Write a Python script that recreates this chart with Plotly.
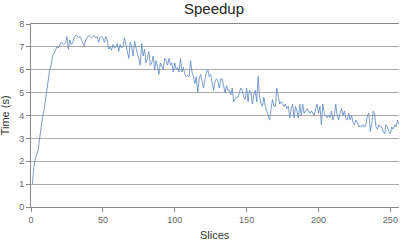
import plotly.graph_objects as go

slices = list(range(1, 257))
speedup = [
    1.0, 1.8, 2.1, 2.3, 2.5, 3.0, 3.6, 3.9, 4.2, 4.7,
    5.1, 5.6, 6.0, 6.2, 6.6, 6.7, 6.9, 7.0, 6.95, 7.1,
    7.2, 7.15, 7.1, 7.2, 7.45, 6.9, 7.3, 7.1, 7.2, 7.4,
    7.5, 7.5, 7.4, 7.45, 7.3, 7.2, 7.05, 7.3, 7.4, 7.5,
    7.45, 7.4, 7.45, 7.5, 7.4, 7.45, 7.2, 7.4, 7.45, 7.4,
    7.2, 7.45, 7.3, 6.9, 7.0, 6.85, 7.1, 6.95, 7.0, 7.15,
    6.8, 7.1, 6.95, 7.0, 7.4, 7.0, 6.8, 6.5, 7.2, 7.0,
    6.6, 7.25, 6.9, 6.7, 6.5, 6.2, 7.15, 6.6, 6.9, 6.3,
    6.5, 6.8, 6.2, 6.3, 6.6, 6.0, 6.4, 6.1, 5.8, 6.3,
    6.1, 6.0, 6.5, 6.4, 6.2, 6.5, 6.2, 6.3, 5.9, 6.3,
    6.0, 6.1, 5.9, 6.5, 5.9, 6.1, 5.8, 5.7, 5.75, 5.7,
    6.4, 5.9, 5.7, 5.4, 5.7, 5.0, 5.6, 5.8, 5.5, 5.2,
    5.6, 5.9, 6.0, 5.7, 5.8, 5.4, 5.1, 5.5, 5.6, 5.5,
    5.2, 5.6, 5.6, 5.3, 5.0, 5.3, 5.1, 5.1, 4.9, 5.2,
    4.6, 4.7, 4.8, 4.8, 5.0, 5.2, 5.1, 4.8, 4.7, 5.2,
    4.6, 5.1, 5.0, 4.5, 4.9, 5.1, 4.6, 5.7, 4.8, 4.5,
    4.4, 4.8, 4.4, 4.2, 4.0, 3.8, 4.3, 4.7, 4.4, 4.4,
    5.2, 4.9, 4.5, 4.6, 4.5, 4.4, 4.5, 4.3, 4.4, 3.9,
    4.3, 4.5, 3.9, 4.4, 4.2, 3.9, 4.5, 4.0, 4.5, 4.1,
    4.2, 4.3, 4.2, 4.1, 4.2, 4.1, 4.0, 4.3, 4.5, 4.1,
    4.4, 3.6, 4.5, 4.1, 4.0, 3.9, 4.0, 3.9, 4.2, 3.8,
    4.0, 4.5, 4.0, 3.8, 4.1, 4.3, 4.0, 4.2, 3.9, 3.8,
    4.1, 3.8, 4.0, 3.7, 3.6, 3.8, 3.7, 3.5, 3.55, 3.5,
    3.6, 3.5, 3.6, 4.0, 4.1, 3.3, 3.6, 4.2, 4.1, 3.5,
    3.4, 3.6, 3.5, 3.5, 3.3, 3.2, 3.6, 3.5, 3.3, 3.2,
    3.5, 3.4, 3.6, 3.5, 3.8, 3.6,
]
x_ticks = [0, 50, 100, 150, 200, 250]
y_ticks = [0, 1, 2, 3, 4, 5, 6, 7, 8]

fig = go.Figure(go.Scatter(
    x=slices, y=speedup, mode="lines",
    line=dict(color="#5b86c0", width=0.8),
    hoverinfo="skip",
))

font = "Liberation Sans, Arial, sans-serif"
title_font = dict(family=font, size=11, color="#333")
fig.update_layout(
    width=400, height=240,
    margin=dict(l=31, r=1, t=24, b=33),
    paper_bgcolor="white", plot_bgcolor="white",
    showlegend=False,
    title=dict(text="Speedup", x=0.535, xanchor="center", y=0.985, yanchor="top",
               font=dict(family=font, size=15, color="#222")),
    font=dict(family=font, size=9, color="#666"),
    annotations=[
        dict(text="Slices", xref="paper", yref="paper", x=0.5, y=-0.155,
             xanchor="center", yanchor="middle", showarrow=False, font=title_font),
        dict(text="Time (s)", xref="paper", yref="paper", x=-0.071, y=0.5,
             xanchor="center", yanchor="middle", textangle=-90, showarrow=False,
             font=title_font),
    ],
)
fig.update_xaxes(
    range=[0, 256], tickvals=x_ticks, showgrid=False, zeroline=False,
    showline=True, linecolor="#888", linewidth=1, mirror=True,
    ticks="outside", ticklen=4, tickcolor="#888",
)
fig.update_yaxes(
    range=[0, 8], tickvals=y_ticks, showgrid=True, gridcolor="#aaa", gridwidth=1,
    zeroline=False, showline=True, linecolor="#888", linewidth=1,
    ticks="outside", ticklen=4, tickcolor="#888",
)

fig.write_html("out.html")
